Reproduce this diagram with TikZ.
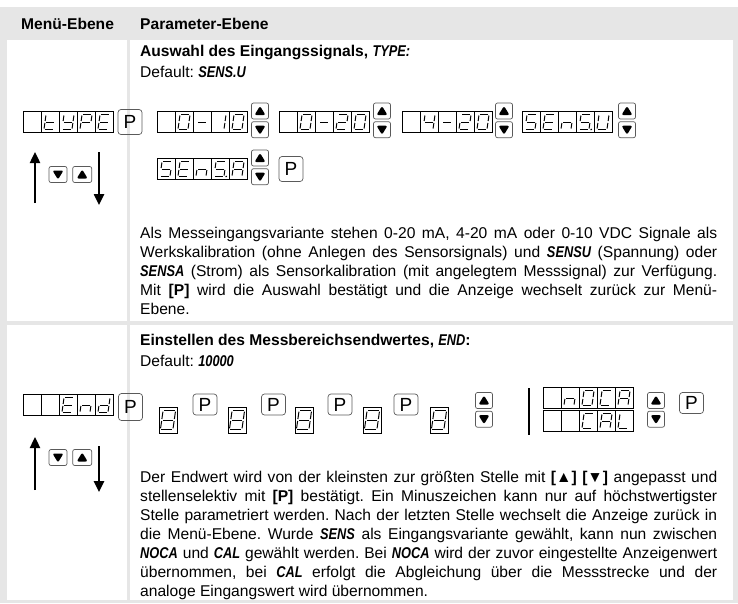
\documentclass[tikz,border=0pt]{standalone}
\usepackage{fontspec}
\setmainfont{Liberation Sans}
\newfontfamily\lcdfont{Liberation Sans}[FakeStretch=0.82]
\usetikzlibrary{positioning,arrows.meta}
\definecolor{tablegray}{HTML}{E6E6E6}
\definecolor{keygray}{HTML}{5A5A5A}
\newcommand\lcdtext[1]{{\lcdfont\bfseries\itshape #1}}
\newcommand\bodyfont{\fontsize{15.6}{18.9}\selectfont}
\tikzset{
    cell/.style={draw, line width=0.6pt, minimum width=18pt, minimum height=21pt, inner sep=0},
    digit/.style={draw, line width=0.6pt, minimum width=18pt, minimum height=26pt, inner sep=0},
    seg/.style={line width=1pt, shorten <=1pt, shorten >=1pt},
    key/.style={draw=keygray, line width=0.7pt, rounded corners=2pt, minimum width=17pt, minimum height=16pt, inner sep=0},
    upkey/.style={key, path picture={\fill (path picture bounding box.center) ++(-5.5pt,-4pt) -- ++(11pt,0pt) -- ++(-5.5pt,9pt) -- cycle;}},
    downkey/.style={key, path picture={\fill (path picture bounding box.center) ++(-5.5pt,4pt) -- ++(11pt,0pt) -- ++(-5.5pt,-9pt) -- cycle;}},
    pkey/.style={draw=keygray, line width=0.7pt, rounded corners=3pt, minimum width=24pt, minimum height=25pt, inner sep=0, font=\fontsize{19}{19}\selectfont},
    bigarrow/.style={line width=2.4pt, -{Triangle[length=11pt, width=10pt]}},
    txt/.style={anchor=base west, inner sep=0},
    head/.style={txt, font=\bodyfont\bfseries},
    para/.style={txt, text width=577pt, align=justify}
}
% one segment of a seven-segment glyph
\newcommand\seg[1]{%
    \if a#1\draw[seg] (-5,-7.5) -- (5,-7.5);\fi
    \if b#1\draw[seg] (5,-7.5) -- (5,0);\fi
    \if c#1\draw[seg] (5,0) -- (5,7.5);\fi
    \if d#1\draw[seg] (-5,7.5) -- (5,7.5);\fi
    \if e#1\draw[seg] (-5,0) -- (-5,7.5);\fi
    \if f#1\draw[seg] (-5,-7.5) -- (-5,0);\fi
    \if g#1\draw[seg] (-5,0) -- (5,0);\fi
    \if p#1\fill (7.2,7.5) circle (0.9pt);\fi}
\makeatletter
\newcommand\glyph[3][1]{%
    \begin{scope}[shift={(#2.center)}, scale=#1, xslant=0.14]
        \@tfor\sg:=#3\do{\seg\sg}
    \end{scope}}
\makeatother
% a display of cells: name, west point, glyphs
\newcommand\lcd[3]{%
    \foreach \g [count=\i] in {#3}{%
        \path (#2) ++(\i*18-9,0) node[cell] (#1-\i) {};
        \edef\tmp{\noexpand\glyph{#1-\i}{\g}}\tmp
    }}

\begin{document}
\frenchspacing
\begin{tikzpicture}[x=1pt, y=-1pt, font=\bodyfont]
    \useasboundingbox (0,0) rectangle (738,603);
    % table
    \fill[tablegray] (0,7) rectangle (738,40);
    \fill[tablegray] (0,7) rectangle (7,603);
    \fill[tablegray] (733,7) rectangle (738,603);
    \fill[tablegray] (0,600) rectangle (738,603);
    \fill[tablegray] (0,321) rectangle (738,325);
    \fill[tablegray] (127,40) rectangle (130,600);
    \node[head] (menu) at (21,29) {Menü-Ebene};
    \node[head] (param) at (140,29) {Parameter-Ebene};

    % TYPE
    \node[head] (title1) at (140,56) {Auswahl des Eingangssignals, \lcdtext{TYPE:}};
    \node[txt] (default1) at (140,77.5) {Default: \lcdtext{SENS.U}};
    \lcd{type}{23,122}{x,defg,bcdfg,abefg,adefg}
    \node[pkey] (p0) at (130,122) {P};
    \lcd{ten}{157,122}{x,abcdef,g,bc,abcdef}
    \node[upkey] (up1) at (260,111) {};
    \node[downkey, below=2pt of up1] (dn1) {};
    \lcd{twenty}{279,122}{x,abcdef,g,abdeg,abcdef}
    \node[upkey] (up2) at (382,111) {};
    \node[downkey, below=2pt of up2] (dn2) {};
    \lcd{four}{402,122}{x,bcfg,g,abdeg,abcdef}
    \node[upkey] (up3) at (504,111) {};
    \node[downkey, below=2pt of up3] (dn3) {};
    \lcd{sensu}{522,122}{acdfg,adefg,ceg,acdfgp,bcdef}
    \node[upkey] (up4) at (627,111) {};
    \node[downkey, below=2pt of up4] (dn4) {};
    \lcd{sensa}{157,169}{acdfg,adefg,ceg,acdfgp,abcefg}
    \node[upkey] (up5) at (260,158) {};
    \node[downkey, below=2pt of up5] (dn5) {};
    \node[pkey] (p5) at (291,169) {P};

    \node[downkey, minimum width=18pt] (menudn1) at (58,174.5) {};
    \node[upkey, minimum width=19pt, right=5pt of menudn1] (menuup1) {};
    \coordinate (ua1) at (35,203);
    \coordinate (ub1) at (35,152);
    \coordinate (da1) at (99,152);
    \coordinate (db1) at (99,205);
    \draw[bigarrow] (ua1) -- (ub1);
    \draw[bigarrow] (da1) -- (db1);

    \node[para] (text1) at (140,238.6) {Als Messeingangsvariante stehen 0-20 mA, 4-20 mA oder 0-10 VDC Signale als\linebreak
        Werkskalibration (ohne Anlegen des Sensorsignals) und \lcdtext{SENSU} (Spannung) oder\linebreak
        \lcdtext{SENSA} (Strom) als Sensorkalibration (mit angelegtem Messsignal) zur Verfügung.\linebreak
        Mit \textbf{[P]} wird die Auswahl bestätigt und die Anzeige wechselt zurück zur Menü-\linebreak
        Ebene.};

    % END
    \node[head] (title2) at (140,345.5) {Einstellen des Messbereichsendwertes, \lcdtext{END}:};
    \node[txt] (default2) at (140,366.5) {Default: \lcdtext{10000}};
    \lcd{end}{23,405}{x,x,adefg,ceg,bcdeg}
    \node[pkey, minimum height=27pt] (p6) at (130.5,407) {P};
    \foreach \k/\x in {1/168,2/237,3/304,4/372,5/439}{
        \node[digit] (dig\k) at (\x,420) {};
        \glyph[1.25]{dig\k}{abcdefg}
    }
    \foreach \k/\x in {1/205,2/273.5,3/340,4/406}
        \node[pkey, minimum height=21pt] (pd\k) at (\x,404.5) {P};
    \node[upkey] (up6) at (484,400.5) {};
    \node[downkey, below=2pt of up6] (dn6) {};
    \coordinate (bar1) at (529,388);
    \coordinate (bar2) at (529,435);
    \draw[line width=2pt] (bar1) -- (bar2);
    \lcd{noca}{543,398}{x,ceg,abcdef,adef,abcefg}
    \lcd{cal}{543,421}{x,x,adef,abcefg,def}
    \node[upkey] (up7) at (656,400.5) {};
    \node[downkey, below=2pt of up7] (dn7) {};
    \node[pkey, minimum height=21pt] (p7) at (691.5,403) {P};

    \node[downkey, minimum width=18pt] (menudn2) at (58,457.5) {};
    \node[upkey, minimum width=19pt, right=5pt of menudn2] (menuup2) {};
    \coordinate (ua2) at (35,490);
    \coordinate (ub2) at (35,437);
    \coordinate (da2) at (99,446);
    \coordinate (db2) at (99,492);
    \draw[bigarrow] (ua2) -- (ub2);
    \draw[bigarrow] (da2) -- (db2);

    \node[para] (text2) at (140,482.6) {Der Endwert wird von der kleinsten zur größten Stelle mit \textbf{[▲] [▼]} angepasst und\linebreak
        stellenselektiv mit \textbf{[P]} bestätigt. Ein Minuszeichen kann nur auf höchstwertigster\linebreak
        Stelle parametriert werden. Nach der letzten Stelle wechselt die Anzeige zurück in\linebreak
        die Menü-Ebene. Wurde \lcdtext{SENS} als Eingangsvariante gewählt, kann nun zwischen\linebreak
        \lcdtext{NOCA} und \lcdtext{CAL} gewählt werden. Bei \lcdtext{NOCA} wird der zuvor eingestellte Anzeigenwert\linebreak
        übernommen, bei \lcdtext{CAL} erfolgt die Abgleichung über die Messstrecke und der\linebreak
        analoge Eingangswert wird übernommen.};
\end{tikzpicture}
\end{document}
